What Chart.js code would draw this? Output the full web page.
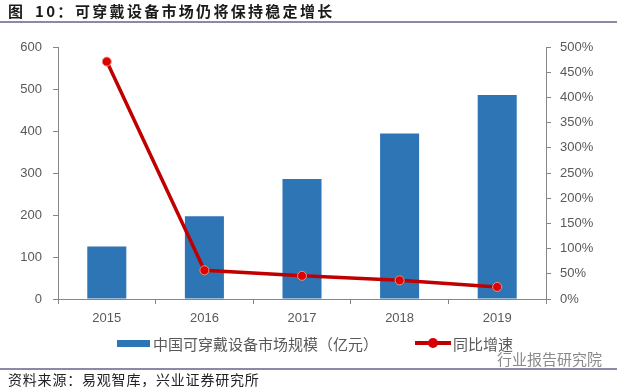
<!DOCTYPE html>
<html lang="zh-CN">
<head>
<meta charset="utf-8">
<title>可穿戴设备市场仍将保持稳定增长</title>
<script src="https://cdn.jsdelivr.net/npm/chart.js@4.4.1/dist/chart.umd.min.js"></script>
<style>
  html, body { margin: 0; padding: 0; background: #fff; }
  .frame { position: relative; width: 620px; height: 388px; overflow: hidden; }
  .frame canvas { position: absolute; left: 0; top: 0; }
  .title {
    position: absolute; top: 0; height: 20px; line-height: 20px;
    font: bold 15px "Noto Sans CJK SC", sans-serif; color: #1a1a1a;
    letter-spacing: 2.3px; white-space: pre;
  }
  .rule { position: absolute; left: 0; width: 617px; height: 2px; background: #8a8aa6; }
  .legend-item { position: absolute; display: flex; align-items: center; height: 20px; top: 333px;
    font: 15px "Noto Sans CJK SC", sans-serif; color: #595959; }
  .swatch-bar { width: 33px; height: 7px; background: #2e75b6; margin-right: 3px; }
  .swatch-line { position: relative; width: 36px; height: 4px; background: #c00000; margin-right: 2px; }
  .swatch-line::after { content: ""; position: absolute; left: 13px; top: -3px; width: 10px; height: 10px;
    border-radius: 50%; background: #d80000; }
  .source { position: absolute; left: 8px; top: 369px; height: 20px; line-height: 20px;
    font: 14px "Noto Sans CJK SC", sans-serif; color: #222; letter-spacing: 0.8px; }
  .mark { position: absolute; left: 497px; top: 348px; height: 20px; line-height: 20px;
    font: 15px "Noto Sans CJK SC", sans-serif; color: #8a8a8a; }
</style>
</head>
<body>
<div class="frame">
  <canvas id="chart" width="620" height="388"></canvas>
  <div class="title" style="left:8px">图</div>
  <div class="title" style="left:35px">10：</div>
  <div class="title" style="left:75px">可穿戴设备市场仍将保持稳定增长</div>
  <div class="rule" style="top:21px"></div>
  <div class="legend-item" style="left:117px"><span class="swatch-bar"></span><span id="lg0"></span></div>
  <div class="legend-item" style="left:415px"><span class="swatch-line"></span><span id="lg1"></span></div>
  <div class="mark">行业报告研究院</div>
  <div class="rule" style="top:368px"></div>
  <div class="source">资料来源：易观智库，兴业证券研究所</div>
</div>

<script>
// ---- data ----
const years = ['2015', '2016', '2017', '2018', '2019'];
const marketSize = [125, 197, 286, 394, 486];   // 亿元
const growthRate = [471, 57, 46, 37, 24];       // %
const sizeLabel = '中国可穿戴设备市场规模（亿元）';
const growthLabel = '同比增速';

const axisGray = '#868686';
const tickGray = '#595959';

document.getElementById('lg0').textContent = sizeLabel;
document.getElementById('lg1').textContent = growthLabel;

Chart.defaults.font.family = '"Liberation Sans", "Noto Sans", sans-serif';
Chart.defaults.font.size = 13;
Chart.defaults.color = tickGray;

new Chart(document.getElementById('chart'), {
  data: {
    labels: years,
    datasets: [
      {
        type: 'line',
        label: growthLabel,
        data: growthRate,
        yAxisID: 'y1',
        order: 0,
        borderColor: '#c00000',
        borderWidth: 3.5,
        pointRadius: 4.5,
        pointBackgroundColor: '#dc0000',
        pointBorderColor: '#f19070',
        pointBorderWidth: 1,
        tension: 0
      },
      {
        type: 'bar',
        label: sizeLabel,
        data: marketSize,
        yAxisID: 'y',
        order: 1,
        backgroundColor: '#2e75b6',
        barPercentage: 0.4,
        categoryPercentage: 1
      }
    ]
  },
  options: {
    responsive: false,
    animation: false,
    layout: { padding: { top: 47, left: 0, right: 0, bottom: 59 } },
    plugins: { legend: { display: false }, tooltip: { enabled: false } },
    scales: {
      x: {
        offset: true,
        grid: { display: true, offset: true, drawOnChartArea: false, tickLength: 5, color: axisGray },
        border: { color: axisGray },
        ticks: { padding: 7, color: tickGray },
        afterFit: s => { s.height = 30; }
      },
      y: {
        position: 'left',
        min: 0, max: 600,
        ticks: { stepSize: 100, padding: 11, color: tickGray },
        grid: { drawOnChartArea: false, tickLength: 5, color: axisGray },
        border: { color: axisGray },
        afterFit: s => { s.width = 58; }
      },
      y1: {
        position: 'right',
        min: 0, max: 500,
        ticks: { stepSize: 50, padding: 9, color: tickGray, callback: v => v + '%' },
        grid: { drawOnChartArea: false, tickLength: 5, color: axisGray },
        border: { color: axisGray },
        afterFit: s => { s.width = 74; }
      }
    }
  }
});
</script>
</body>
</html>
